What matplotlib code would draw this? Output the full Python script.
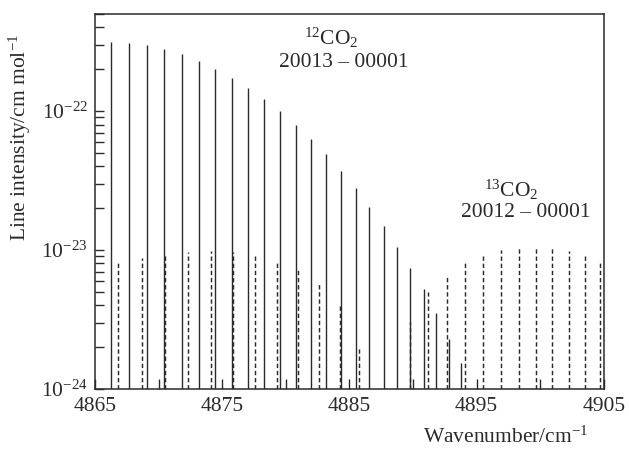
import matplotlib
matplotlib.use("Agg")
import matplotlib.pyplot as plt
from matplotlib.ticker import NullFormatter

# 12CO2 20013-00001 lines (solid)
co2_12_wn = [4866.26, 4867.67, 4869.08, 4870.42, 4871.81, 4873.15, 4874.45, 4875.76,
             4877.04, 4878.30, 4879.53, 4880.77, 4881.97, 4883.15, 4884.32, 4885.48,
             4886.55, 4887.68, 4888.75, 4889.80, 4890.84, 4891.84, 4892.79, 4893.77]
co2_12_int = [3.12e-22, 3.07e-22, 2.97e-22, 2.78e-22, 2.56e-22, 2.28e-22, 2.02e-22, 1.74e-22,
              1.46e-22, 1.22e-22, 1.00e-22, 8.0e-23, 6.3e-23, 4.9e-23, 3.7e-23, 2.8e-23,
              2.05e-23, 1.50e-23, 1.06e-23, 7.4e-24, 5.2e-24, 3.5e-24, 2.3e-24, 1.55e-24]

# 13CO2 20012-00001 lines (dashed)
co2_13_wn = [4866.78, 4868.67, 4870.52, 4872.31, 4874.09, 4875.82, 4877.57, 4879.27,
             4880.92, 4882.62, 4884.25, 4885.78, 4889.74, 4891.18, 4892.65, 4894.12,
             4895.50, 4896.92, 4898.31, 4899.64, 4900.92, 4902.24, 4903.49, 4904.73]
co2_13_int = [8.1e-24, 8.8e-24, 9.4e-24, 9.7e-24, 9.9e-24, 9.7e-24, 9.25e-24, 8.4e-24,
              7.2e-24, 5.7e-24, 4.0e-24, 2.05e-24, 3.05e-24, 4.95e-24, 6.65e-24, 8.1e-24,
              9.2e-24, 9.95e-24, 1.04e-23, 1.05e-23, 1.03e-23, 9.8e-24, 9.15e-24, 8.35e-24]

x_labels = [4865, 4875, 4885, 4895, 4905]
x_minor = [4870, 4880, 4890, 4900]
y_major = [1e-24, 1e-23, 1e-22]

plt.rcParams["font.family"] = ["Liberation Serif", "DejaVu Serif"]
plt.rcParams["mathtext.fontset"] = "custom"
plt.rcParams["mathtext.rm"] = "Liberation Serif"
plt.rcParams["mathtext.it"] = "Liberation Serif:italic"

ink = "#2a2a2a"
base = 1e-24

fig = plt.figure(figsize=(6.29, 4.50), dpi=100)
ax = fig.add_axes([0.151, 0.1356, 0.809, 0.8334])

ax.vlines(co2_12_wn, base, co2_12_int, colors=ink, linewidth=1.0)
ax.vlines(co2_13_wn, base, co2_13_int, colors=ink, linewidth=1.05,
          linestyles=[(0, (3.0, 1.9))])

ax.set_yscale("log")
ax.set_xlim(4865, 4905)
ax.set_ylim(1e-24, 5e-22)
ax.set_yticks(y_major)
ax.yaxis.set_minor_formatter(NullFormatter())

ax.set_xticks(x_labels)
ax.set_xticks(x_minor, minor=True)
ax.tick_params(axis="both", which="both", direction="in", colors=ink,
               labelsize=15.5, width=1.0)
ax.tick_params(axis="x", which="both", length=7, pad=6)
ax.tick_params(axis="y", which="both", length=6.5, pad=5)

for s in ax.spines.values():
    s.set_color(ink)
    s.set_linewidth(1.1)

ax.set_ylabel("Line intensity/cm mol$^{-1}$", fontsize=15.5, color=ink)
ax.yaxis.set_label_coords(-0.122, 0.67)
ax.set_xlabel("Wavenumber/cm$^{-1}$", fontsize=15.5, color=ink, ha="right")
ax.xaxis.set_label_coords(0.97, -0.1)

ax.text(4883.55, 3.35e-22, "$^{12}$CO$_2$", fontsize=15.5, color=ink, ha="center", va="center")
ax.text(4884.55, 2.25e-22, "20013 – 00001", fontsize=15.5, color=ink, ha="center", va="center")
ax.text(4897.75, 2.7e-23, "$^{13}$CO$_2$", fontsize=15.5, color=ink, ha="center", va="center")
ax.text(4898.85, 1.85e-23, "20012 – 00001", fontsize=15.5, color=ink, ha="center", va="center")

fig.savefig("out.png", dpi=100)
